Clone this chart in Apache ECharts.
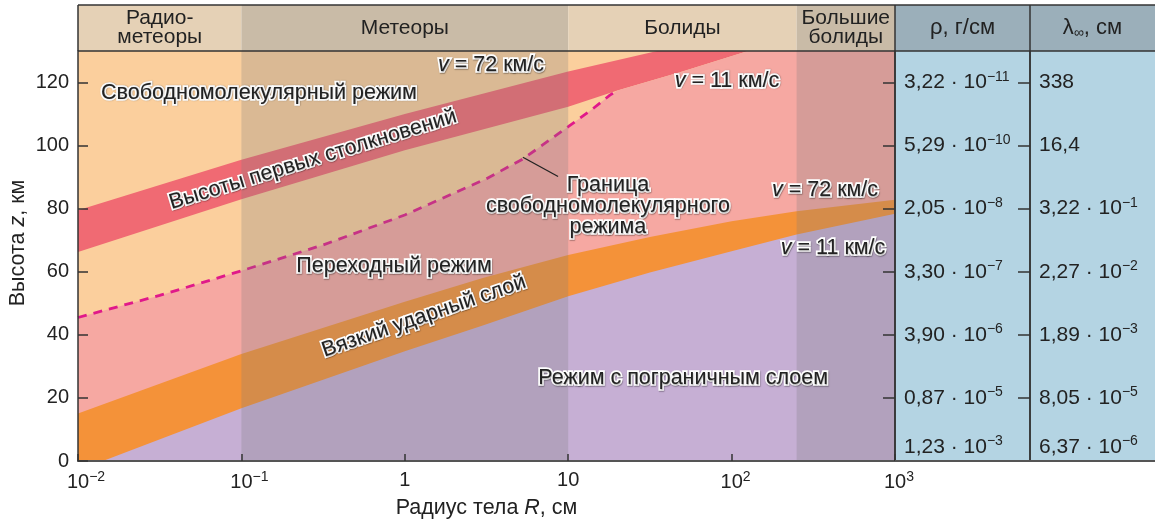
<!DOCTYPE html>
<html><head><meta charset="utf-8">
<script src="https://cdn.jsdelivr.net/npm/echarts@6/dist/echarts.min.js"></script>
<style>html,body{margin:0;padding:0;background:#fff}#c{width:1155px;height:520px}</style>
</head><body><div id="c"></div>
<script>
// ---------- data ----------
const zoneEdges = [0.01, 0.1, 10, 250, 1000];
const zoneNames = ['Радио-\nметеоры', 'Метеоры', 'Болиды', 'Большие\nболиды'];
const zoneShaded = [false, true, false, true];

// heights of first collisions (v = 72 km/s upper, v = 11 km/s lower)
const collisionUpper = [[0.01, 79.5], [0.1, 95.5], [1, 110], [10, 123.5], [35, 130], [1000, 130]];
const collisionLower = [[0.01, 66.3], [0.1, 83], [1, 98.5], [10, 112.3], [20, 117.5], [50, 123.5], [126, 130], [1000, 130]];
// free-molecular regime boundary (dashed)
const freeMolBoundary = [[0.01, 45.5], [0.0316, 52.5], [0.1, 60.3], [0.316, 68.5], [1, 78], [3.16, 89.5], [5.3, 95.8], [10, 106], [14, 111.5], [18, 116], [20, 117.5]];
// viscous shock layer (v = 72 upper, v = 11 lower)
const shockUpper = [[0.01, 15.1], [0.1, 33.9], [1, 50.5], [3, 58], [10, 65.3], [31.6, 71], [100, 76], [250, 79.2], [1000, 82.8]];
const shockLower = [[0.0142, 0], [0.1, 16.7], [1, 34.8], [3, 43], [10, 52.2], [31.6, 59.8], [100, 66.5], [250, 71.8], [1000, 78.4]];

const heightTicks = [0, 20, 40, 60, 80, 100, 120];
const tableTicks = [20, 40, 60, 80, 100, 120];
const tableLevels = [120, 100, 80, 60, 40, 20, 0];
const rhoMant = ['3,22', '5,29', '2,05', '3,30', '3,90', '0,87', '1,23'];
const rhoExp = [-11, -10, -8, -7, -6, -5, -3];
const lambdaMant = ['338', '16,4', '3,22', '2,27', '1,89', '8,05', '6,37'];
const lambdaExp = [null, null, -1, -2, -3, -5, -6];
const tableHeads = ['ρ, г/см', 'λ{sub|∞}, см'];

const annotations = [
  { R: 0.128, z: 116.8, t: 'Свободномолекулярный режим', rot: 0 },
  { R: 0.274, z: 95.6, t: 'Высоты первых столкновений', rot: 17 },
  { R: 3.37, z: 125.4, t: '{i|v} = 72 км/с', rot: 0 },
  { R: 93.7, z: 120.6, t: '{i|v} = 11 км/с', rot: 0 },
  { R: 17.5, z: 80.7, t: 'Граница\nсвободномолекулярного\nрежима', rot: 0 },
  { R: 0.86, z: 61.7, t: 'Переходный режим', rot: 0 },
  { R: 1.31, z: 45.9, t: 'Вязкий ударный слой', rot: 19 },
  { R: 50.5, z: 26.3, t: 'Режим с пограничным слоем', rot: 0 },
  { R: 373, z: 85.8, t: '{i|v} = 72 км/с', rot: 0 },
  { R: 418, z: 67.4, t: '{i|v} = 11 км/с', rot: 0 }
];
const leaderLine = [[5.28, 96.3], [8.67, 90.2]];

// ---------- styles / layout ----------
const FF = '"Liberation Sans", Arial, sans-serif';
const TXT = '#222';
const FS = 21.5;
const PEACH = '#fbcf9d', RED = '#f06a73', PINK = '#f6a8a2', ORANGE = '#f49239', PURPLE = '#c6afd4';
const DASH = '#e0198a', OVERLAY = 'rgba(122,124,125,0.26)', HEADLIGHT = '#e5d1b6';
const BLUE = '#b4d4e3', BLUEHEAD = '#9bafba', LINE = '#333';
const L = 78, RX = 895, CX = 1030, WX = 1155, TOPY = 5, HEADY = 51, BOTY = 461;

const transitionTop = freeMolBoundary.concat(collisionLower.filter(p => p[0] > 20));
const shadedZones = [];
zoneShaded.forEach((s, i) => { if (s) shadedZones.push([zoneEdges[i], zoneEdges[i + 1]]); });

function expText(m, e) {
  return e == null ? m : m + ' · 10{s|' + (e < 0 ? '−' : '') + Math.abs(e) + '}';
}
function makeRich(fs) {
  return {
    s: { fontSize: Math.round(fs * 0.68), fontFamily: FF, fill: TXT, color: TXT, padding: [0, 0, Math.round(fs * 0.5), 0] },
    i: { fontSize: fs, fontFamily: FF, fontStyle: 'italic', fill: TXT, color: TXT },
    sub: { fontSize: Math.round(fs * 0.62), fontFamily: FF, fill: TXT, color: TXT, padding: [Math.round(fs * 0.45), 0, 0, 0] }
  };
}

function areaSeries(data, color, z) {
  return {
    type: 'line', data: data, xAxisIndex: 0, yAxisIndex: 0, z: z, silent: true,
    showSymbol: false, symbol: 'none', smooth: false,
    lineStyle: { width: 0, opacity: 0 },
    areaStyle: { color: color, opacity: 1 }
  };
}

function textEl(x, y, text, opts) {
  opts = opts || {};
  const fs = opts.fs || FS;
  return {
    type: 'text', x: x, y: y, rotation: opts.rot || 0,
    style: Object.assign({
      text: text, fontSize: fs, fontFamily: FF, fill: TXT,
      align: opts.align || 'center', verticalAlign: 'middle',
      textAlign: opts.align || 'center', textVerticalAlign: 'middle',
      lineHeight: opts.lh || Math.round(fs * 1.0), rich: makeRich(fs)
    }, opts.halo ? {
      stroke: '#fff', lineWidth: 3.5,
      textShadowColor: 'rgba(0,0,0,0.35)', textShadowBlur: 1.2, textShadowOffsetX: 0.5, textShadowOffsetY: 0.7
    } : {})
  };
}

const gridBase = { containLabel: false, outerBoundsMode: 'none' };
const option = {
  animation: false,
  backgroundColor: '#fff',
  grid: [
    Object.assign({ left: L, top: HEADY, width: RX - L, height: BOTY - HEADY, show: true, backgroundColor: PEACH, borderWidth: 0 }, gridBase),
    Object.assign({ left: L, top: TOPY, width: RX - L, height: HEADY - TOPY }, gridBase),
    Object.assign({ left: RX, top: HEADY, width: CX - RX, height: BOTY - HEADY, show: true, backgroundColor: BLUE, borderWidth: 0 }, gridBase),
    Object.assign({ left: CX, top: HEADY, width: WX - CX, height: BOTY - HEADY, show: true, backgroundColor: BLUE, borderWidth: 0 }, gridBase)
  ],
  xAxis: [
    {
      type: 'log', logBase: 10, min: 0.01, max: 1000, gridIndex: 0, z: 20,
      axisLine: { show: true, lineStyle: { color: '#555', width: 2 } },
      axisTick: { show: true, inside: true, length: 7, lineStyle: { color: LINE, width: 1.5 } },
      minorTick: { show: false }, splitLine: { show: false },
      axisLabel: {
        margin: 9, fontSize: 20, fontFamily: FF, color: TXT,
        formatter: function (v) {
          const e = Math.round(Math.log10(v));
          if (e === 0) return '1';
          if (e === 1) return '10';
          return '{' + (e < 0 ? 'pn' : 'pp') + '| }10{s|' + (e < 0 ? '−' : '') + Math.abs(e) + '}';
        },
        rich: {
          s: { fontSize: 14, fontFamily: FF, color: TXT, padding: [0, 0, 10, 0] },
          pn: { width: 16, fontSize: 14 },
          pp: { width: 8, fontSize: 14 }
        }
      },
      name: 'Радиус тела {i|R}, см', nameLocation: 'middle', nameGap: 34,
      nameTextStyle: {
        fontSize: FS, fontFamily: FF, color: TXT,
        rich: { i: { fontSize: FS, fontFamily: FF, fontStyle: 'italic', color: TXT } }
      }
    },
    { type: 'log', logBase: 10, min: 0.01, max: 1000, gridIndex: 1, show: false },
    { type: 'value', min: 0, max: 1, gridIndex: 2, show: false },
    { type: 'value', min: 0, max: 1, gridIndex: 3, show: false }
  ],
  yAxis: [
    {
      type: 'value', min: 0, max: 130, interval: 20, gridIndex: 0, z: 20,
      axisLine: { show: true, onZero: false, lineStyle: { color: LINE, width: 1.5 } },
      axisTick: { show: true, inside: true, length: 10, customValues: heightTicks, lineStyle: { color: LINE, width: 1.5 } },
      splitLine: { show: false },
      axisLabel: { margin: 9, fontSize: 20, fontFamily: FF, color: TXT, customValues: heightTicks },
      name: 'Высота {i|z}, км', nameLocation: 'middle', nameGap: 49, nameRotate: 90, nameMoveOverlap: false,
      nameTextStyle: {
        fontSize: FS, fontFamily: FF, color: TXT, padding: [0, 0, 0, 26],
        rich: { i: { fontSize: FS, fontFamily: FF, fontStyle: 'italic', color: TXT } }
      }
    },
    {
      type: 'value', min: 0, max: 130, interval: 20, gridIndex: 0, position: 'right', z: 20,
      axisLine: { show: true, onZero: false, lineStyle: { color: LINE, width: 1.5 } },
      axisTick: { show: true, inside: true, length: 12, customValues: tableTicks, lineStyle: { color: LINE, width: 1.5 } },
      axisLabel: { show: false }, splitLine: { show: false }
    },
    { type: 'value', min: 0, max: 1, gridIndex: 1, show: false },
    {
      type: 'value', min: 0, max: 130, interval: 20, gridIndex: 2, position: 'right', z: 20,
      axisLine: { show: true, onZero: false, lineStyle: { color: LINE, width: 1.5 } },
      axisTick: { show: true, inside: true, length: 12, customValues: tableTicks, lineStyle: { color: LINE, width: 1.5 } },
      axisLabel: { show: false }, splitLine: { show: false }
    },
    { type: 'value', min: 0, max: 130, gridIndex: 3, show: false }
  ],
  series: [
    areaSeries(collisionUpper, RED, 1),
    areaSeries(collisionLower, PEACH, 2),
    areaSeries(transitionTop, PINK, 3),
    areaSeries(shockUpper, ORANGE, 4),
    areaSeries(shockLower, PURPLE, 5),
    {
      type: 'line', data: freeMolBoundary, xAxisIndex: 0, yAxisIndex: 0, z: 6, silent: true,
      showSymbol: false, symbol: 'none',
      lineStyle: { color: DASH, width: 2.8, type: [9, 7] }
    },
    {
      type: 'custom', xAxisIndex: 0, yAxisIndex: 0, z: 7, silent: true,
      data: shadedZones,
      renderItem: function (params, api) {
        const cs = params.coordSys;
        const x0 = api.coord([api.value(0), 0])[0];
        const x1 = api.coord([api.value(1), 0])[0];
        return { type: 'rect', shape: { x: x0, y: cs.y, width: x1 - x0, height: cs.height }, style: { fill: OVERLAY } };
      }
    },
    {
      type: 'line', data: leaderLine, xAxisIndex: 0, yAxisIndex: 0, z: 8, silent: true,
      showSymbol: false, symbol: 'none', lineStyle: { color: TXT, width: 1.3 }
    },
    {
      type: 'custom', xAxisIndex: 0, yAxisIndex: 0, z: 9, silent: true,
      data: annotations.map((a, i) => [a.R, a.z, i]),
      renderItem: function (params, api) {
        const a = annotations[api.value(2)];
        const p = api.coord([api.value(0), api.value(1)]);
        return textEl(p[0], p[1], a.t, { rot: a.rot * Math.PI / 180, halo: true, lh: 21 });
      }
    },
    {
      type: 'custom', xAxisIndex: 1, yAxisIndex: 2, z: 5, silent: true,
      data: zoneNames.map((n, i) => [zoneEdges[i], zoneEdges[i + 1], i]),
      renderItem: function (params, api) {
        const cs = params.coordSys;
        const i = api.value(2);
        const x0 = api.coord([api.value(0), 0])[0];
        const x1 = api.coord([api.value(1), 0])[0];
        const xc = api.coord([Math.sqrt(api.value(0) * api.value(1)), 0])[0];
        const children = [
          { type: 'rect', shape: { x: x0, y: cs.y, width: x1 - x0, height: cs.height }, style: { fill: HEADLIGHT } }
        ];
        if (zoneShaded[i]) children.push({ type: 'rect', shape: { x: x0, y: cs.y, width: x1 - x0, height: cs.height }, style: { fill: OVERLAY } });
        children.push(textEl(xc, cs.y + cs.height / 2, zoneNames[i], { lh: 19, fs: 21 }));
        return { type: 'group', children: children };
      }
    },
    {
      type: 'custom', xAxisIndex: 2, yAxisIndex: 3, z: 5, silent: true,
      data: tableLevels.map((z, i) => [0, z, i]),
      renderItem: function (params, api) {
        const cs = params.coordSys;
        const i = api.value(2);
        let y = api.coord([0, api.value(1)])[1];
        if (api.value(1) === 0) y -= 14;
        return textEl(cs.x + 9, y, expText(rhoMant[i], rhoExp[i]), { align: 'left', fs: 21 });
      }
    },
    {
      type: 'custom', xAxisIndex: 3, yAxisIndex: 4, z: 5, silent: true,
      data: tableLevels.map((z, i) => [0, z, i]),
      renderItem: function (params, api) {
        const cs = params.coordSys;
        const i = api.value(2);
        let y = api.coord([0, api.value(1)])[1];
        if (api.value(1) === 0) y -= 14;
        return textEl(cs.x + 9, y, expText(lambdaMant[i], lambdaExp[i]), { align: 'left', fs: 21 });
      }
    }
  ],
  graphic: [
    { type: 'rect', z: 50, shape: { x: RX, y: TOPY, width: CX - RX, height: HEADY - TOPY }, style: { fill: BLUEHEAD } },
    { type: 'rect', z: 50, shape: { x: CX, y: TOPY, width: WX - CX, height: HEADY - TOPY }, style: { fill: BLUEHEAD } },
    Object.assign(textEl((RX + CX) / 2, (TOPY + HEADY) / 2, tableHeads[0], { fs: 22 }), { z: 60 }),
    Object.assign(textEl((CX + WX) / 2, (TOPY + HEADY) / 2, tableHeads[1], { fs: 22 }), { z: 60 }),
    { type: 'line', z: 100, shape: { x1: L, y1: TOPY, x2: WX, y2: TOPY }, style: { stroke: LINE, lineWidth: 1.5 } },
    { type: 'line', z: 100, shape: { x1: L, y1: HEADY, x2: WX, y2: HEADY }, style: { stroke: LINE, lineWidth: 1.5 } },
    { type: 'line', z: 100, shape: { x1: L, y1: TOPY, x2: L, y2: HEADY }, style: { stroke: LINE, lineWidth: 1.5 } },
    { type: 'line', z: 100, shape: { x1: RX, y1: TOPY, x2: RX, y2: BOTY }, style: { stroke: LINE, lineWidth: 1.5 } },
    { type: 'line', z: 100, shape: { x1: CX, y1: TOPY, x2: CX, y2: BOTY }, style: { stroke: LINE, lineWidth: 1.5 } },
    { type: 'line', z: 100, shape: { x1: RX, y1: BOTY, x2: WX, y2: BOTY }, style: { stroke: '#555', lineWidth: 2 } }
  ]
};

const chart = echarts.init(document.getElementById('c'), null, { renderer: 'canvas' });
chart.setOption(option);
</script>
</body></html>
